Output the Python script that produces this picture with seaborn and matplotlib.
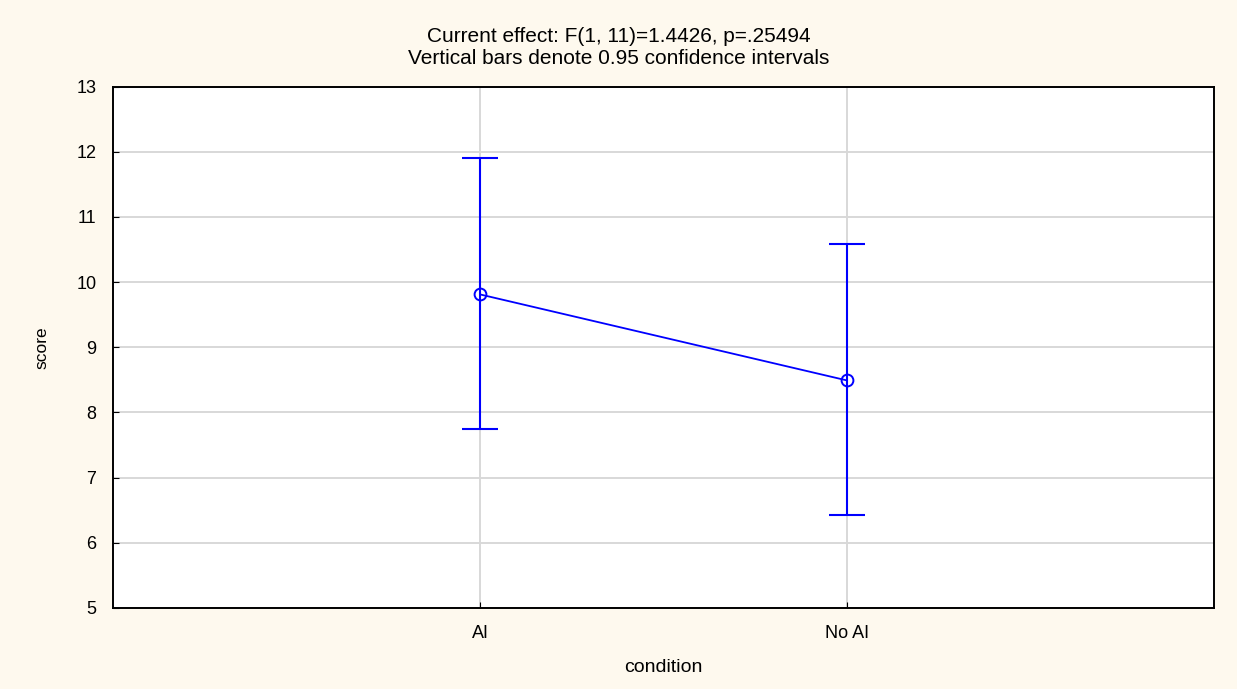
import matplotlib
matplotlib.use("Agg")
import matplotlib.pyplot as plt
import seaborn as sns
import pandas as pd
import numpy as np

conditions = ["AI", "No AI"]
means = [9.81, 8.49]
ci_low = [7.75, 6.42]
ci_high = [11.91, 10.58]
y_ticks = [5, 6, 7, 8, 9, 10, 11, 12, 13]

title_lines = ["Current effect: F(1, 11)=1.4426, p=.25494",
               "Vertical bars denote 0.95 confidence intervals"]

sns.set_style("white")
plt.rcParams['font.family'] = ['Liberation Sans', 'DejaVu Sans']
plt.rcParams['text.color'] = 'black'
plt.rcParams['axes.labelcolor'] = 'black'
plt.rcParams['xtick.color'] = 'black'
plt.rcParams['ytick.color'] = 'black'

bg = "#FEF9EE"
blue = "#0000FF"
W, H = 1237, 689
fig = plt.figure(figsize=(W / 100, H / 100), dpi=100, facecolor=bg)
ax_l, ax_r, ax_t, ax_b = 113, 1214, 86.5, 607.9
ax = fig.add_axes([ax_l / W, 1 - ax_b / H, (ax_r - ax_l) / W, (ax_b - ax_t) / H])
ax.set_facecolor("white")

df = pd.DataFrame({"condition": conditions, "score": means})
sns.pointplot(data=df, x="condition", y="score", errorbar=None, color=blue,
              markers="o", linestyles="-", ax=ax,
              markersize=8.5, markerfacecolor="none", markeredgecolor=blue,
              markeredgewidth=1.4, linewidth=1.3, zorder=5)

xpos = np.arange(len(conditions))
lo = np.array(means) - np.array(ci_low)
hi = np.array(ci_high) - np.array(means)
ax.errorbar(xpos, means, yerr=[lo, hi], fmt="none", ecolor=blue,
            elinewidth=1.5, capsize=13, capthick=1.5, zorder=4)

ax.set_xlim(-1, 2)
ax.set_ylim(5, 13)
ax.set_yticks(y_ticks)
ax.grid(True, color="#D8D8D8", linewidth=1.4, zorder=0)
ax.set_axisbelow(True)
for s in ax.spines.values():
    s.set_color("black")
    s.set_linewidth(1.4)

ax.tick_params(axis="y", labelsize=13, left=True, direction="in", length=4,
               pad=12, colors="black", labelcolor="black")
ax.tick_params(axis="x", labelsize=13, bottom=True, direction="in", length=4,
               pad=12, colors="black", labelcolor="black")

ax.set_xlabel("condition", fontsize=14, color="black")
ax.set_ylabel("score", fontsize=12.5, color="black")
ax.xaxis.set_label_coords(0.5, -(667 - ax_b) / (ax_b - ax_t))
ax.xaxis.label.set_verticalalignment("center")
ax.yaxis.set_label_coords(-(ax_l - 42) / (ax_r - ax_l), 0.5)
ax.yaxis.label.set_verticalalignment("center")

fig.text(0.5, 1 - 36 / H, title_lines[0], ha="center", va="center", fontsize=15, color="black")
fig.text(0.5, 1 - 59 / H, title_lines[1], ha="center", va="center", fontsize=15, color="black")

fig.savefig("out.png", dpi=100, facecolor=bg)
